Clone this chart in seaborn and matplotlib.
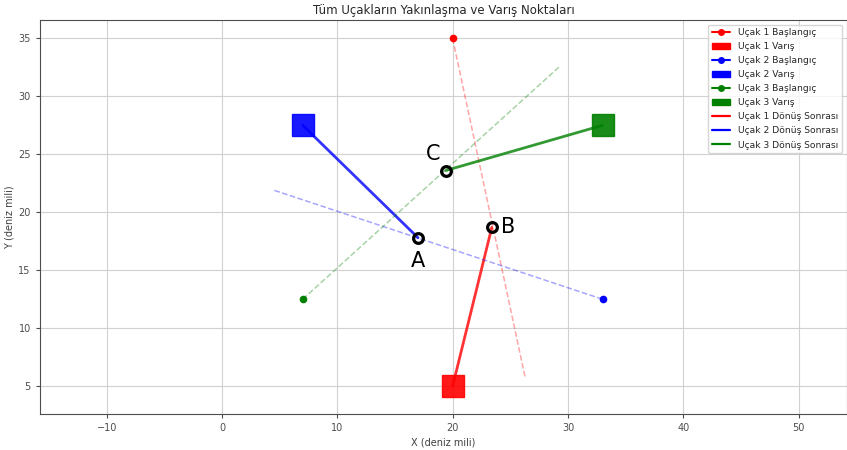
import matplotlib
matplotlib.use("Agg")
import matplotlib.pyplot as plt
from matplotlib.lines import Line2D
from matplotlib.patches import Patch
import seaborn as sns

# plane data (nautical miles)
planes = ["Uçak 1", "Uçak 2", "Uçak 3"]
colors = ["red", "blue", "green"]
start_x = [20.0, 33.0, 7.0]
start_y = [35.0, 12.5, 12.5]
# end of the original (dashed) course
course_end_x = [26.3, 4.5, 29.2]
course_end_y = [5.7, 21.9, 32.5]
# turning points
turn_labels = ["B", "A", "C"]
turn_x = [23.4, 17.0, 19.4]
turn_y = [18.7, 17.8, 23.6]
# destinations
dest_x = [20.0, 7.0, 33.0]
dest_y = [5.0, 27.5, 27.5]

sns.set_style("ticks", {"axes.grid": True, "grid.color": ".82", "axes.edgecolor": ".3"})
plt.rcParams["font.family"] = ["DejaVu Sans"]

fig = plt.figure(figsize=(8.47, 4.5), dpi=100)
ax = fig.add_axes([0.047, 0.08, 0.953, 0.876])

for i in range(3):
    c = colors[i]
    # original course, dashed
    sns.lineplot(x=[start_x[i], course_end_x[i]], y=[start_y[i], course_end_y[i]],
                 color=c, linestyle="--", linewidth=1.1, alpha=0.35, ax=ax, sort=False)
    ax.plot([start_x[i]], [start_y[i]], "o", color=c, markersize=4.5)
    # after turn
    sns.lineplot(x=[turn_x[i], dest_x[i]], y=[turn_y[i], dest_y[i]],
                 color=c, linewidth=2, alpha=0.8, ax=ax, sort=False)
    ax.plot([dest_x[i]], [dest_y[i]], "s", color=c, markersize=16.5, alpha=0.9)

# turning points
offsets = {"A": (0, -2.0), "B": (1.4, 0.0), "C": (-1.1, 1.4)}
for lab, x, y in zip(turn_labels, turn_x, turn_y):
    ax.plot([x], [y], "o", mfc="none", mec="black", mew=2.3, markersize=7, zorder=5)
    dx, dy = offsets[lab]
    ax.text(x + dx, y + dy, lab, fontsize=15, ha="center", va="center", color="black", zorder=6)

ax.set_xlim(-15.8, 54.2)
ax.set_ylim(2.6, 36.6)
ax.set_xticks([-10, 0, 10, 20, 30, 40, 50])
ax.set_yticks([5, 10, 15, 20, 25, 30, 35])
ax.tick_params(labelsize=7, colors=".3", length=3)
ax.set_xlabel("X (deniz mili)", fontsize=7, color=".25", labelpad=3)
ax.set_ylabel("Y (deniz mili)", fontsize=7, color=".25", labelpad=3)
ax.set_title("Tüm Uçakların Yakınlaşma ve Varış Noktaları", fontsize=8.5, color=".15", pad=4)

handles, names = [], []
for i in range(3):
    handles.append(Line2D([], [], color=colors[i], marker="o", markersize=4))
    names.append(f"{planes[i]} Başlangıç")
    handles.append(Patch(color=colors[i]))
    names.append(f"{planes[i]} Varış")
for i in range(3):
    handles.append(Line2D([], [], color=colors[i], linewidth=1.6))
    names.append(f"{planes[i]} Dönüş Sonrası")
ax.legend(handles, names, loc="upper right", fontsize=6.6, frameon=True,
          borderaxespad=0.3, labelspacing=0.55, bbox_to_anchor=(0.997, 0.995))

fig.savefig("out.png", dpi=100)
